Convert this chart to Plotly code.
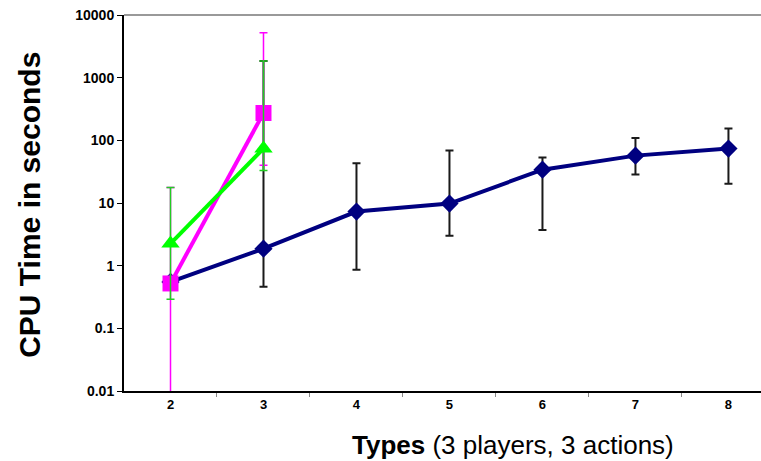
import plotly.graph_objects as go

# ---- data ----
types = [2, 3, 4, 5, 6, 7, 8]
blue_mean = [0.55, 1.87, 7.3, 9.8, 34, 57, 74]
blue_upper = [0.55, 1850, 43, 69, 53, 109, 154]
blue_lower = [0.55, 0.46, 0.86, 3.0, 3.7, 28.6, 20.3]

mag_types = [2, 3]
mag_mean = [0.52, 273]
mag_upper = [17.7, 5200]
mag_lower = [0.005, 40]

grn_types = [2, 3]
grn_mean = [2.25, 74]
grn_upper = [17.7, 1850]
grn_lower = [0.29, 33]

ytick_vals = [0.01, 0.1, 1, 10, 100, 1000, 10000]
ytick_text = ["0.01", "0.1", "1", "10", "100", "1000", "10000"]
xtick_text = [str(t) for t in types]


def err(mean, up, lo):
    return ([u - m for m, u in zip(mean, up)], [m - l for m, l in zip(mean, lo)])


fig = go.Figure()

bu, bl = err(blue_mean, blue_upper, blue_lower)
fig.add_trace(go.Scatter(
    x=types, y=blue_mean, mode="lines+markers",
    line=dict(color="#000080", width=4),
    marker=dict(symbol="diamond", size=14, color="#000080"),
    error_y=dict(type="data", array=bu, arrayminus=bl, color="#1a1a1a",
                 thickness=2, width=4),
    showlegend=False))

mu, ml = err(mag_mean, mag_upper, mag_lower)
fig.add_trace(go.Scatter(
    x=mag_types, y=mag_mean, mode="lines+markers",
    line=dict(color="#FF00FF", width=4),
    marker=dict(symbol="square", size=16, color="#FF00FF"),
    error_y=dict(type="data", array=mu, arrayminus=ml, color="#FF00FF",
                 thickness=1.5, width=4),
    showlegend=False))

gu, gl = err(grn_mean, grn_upper, grn_lower)
fig.add_trace(go.Scatter(
    x=grn_types, y=grn_mean, mode="lines+markers",
    line=dict(color="#00FF00", width=4),
    marker=dict(symbol="triangle-up", size=16, color="#00FF00"),
    error_y=dict(type="data", array=gu, arrayminus=gl, color="#22CC22",
                 thickness=1.5, width=4),
    showlegend=False))

fig.update_layout(
    width=761, height=461,
    margin=dict(l=124, r=0, t=15, b=70),
    paper_bgcolor="white", plot_bgcolor="white",
    font=dict(family="Liberation Sans, Arial, sans-serif", color="black"),
    xaxis=dict(
        range=[1.5, 8.35], tickmode="array", tickvals=types, ticktext=xtick_text,
        ticks="", showgrid=False, zeroline=False,
        showline=True, linecolor="black", linewidth=2,
        tickfont=dict(size=13, family="Liberation Sans, Arial", weight="bold"),
        minor=dict(tickmode="array", tickvals=[t + 0.5 for t in types],
                   ticks="outside", ticklen=4, tickcolor="#888888", showgrid=False),
    ),
    yaxis=dict(
        type="log", range=[-2, 4], tickmode="array", tickvals=ytick_vals,
        ticktext=ytick_text, ticks="outside", ticklen=5, tickcolor="black",
        showgrid=False, zeroline=False, showline=True, linecolor="black",
        linewidth=2,
        tickfont=dict(size=14, family="Liberation Sans, Arial", weight="bold"),
    ),
    shapes=[dict(type="line", xref="paper", yref="paper", x0=0, x1=1, y0=1, y1=1,
                 line=dict(color="#999999", width=2))],
    annotations=[
        dict(text="<b>CPU Time in seconds</b>", xref="paper", yref="paper",
             x=-0.1476, y=0.495, showarrow=False, textangle=-90,
             xanchor="center", yanchor="middle", font=dict(size=30)),
        dict(text="<b>Types</b> (3 players, 3 actions)", xref="paper", yref="paper",
             x=0.611, y=-0.1436, showarrow=False, xanchor="center",
             yanchor="middle", font=dict(size=26)),
    ],
)

fig.write_html(
    "out.html",
    config={"displayModeBar": False},
    post_script="document.body.style.margin='0';document.body.style.overflow='hidden';",
)
